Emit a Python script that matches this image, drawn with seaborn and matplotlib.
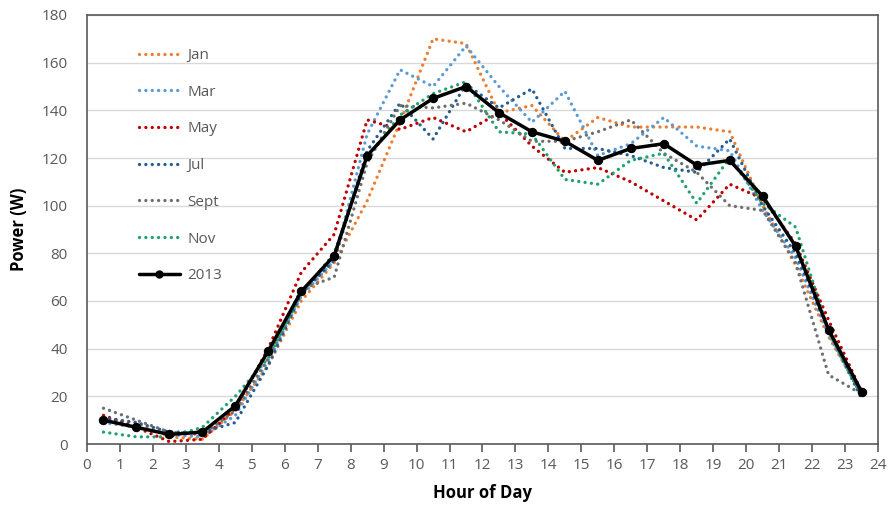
import matplotlib
matplotlib.use("Agg")
import matplotlib.pyplot as plt
import seaborn as sns
import pandas as pd
from matplotlib.lines import Line2D

hours = [0.5, 1.5, 2.5, 3.5, 4.5, 5.5, 6.5, 7.5, 8.5, 9.5, 10.5, 11.5,
         12.5, 13.5, 14.5, 15.5, 16.5, 17.5, 18.5, 19.5, 20.5, 21.5, 22.5, 23.5]

jan = [10, 9, 3, 2, 14, 33, 60, 76, 102, 135, 170, 168, 139, 142, 127, 137, 133, 133, 133, 131, 100, 75, 45, 21]
mar = [9, 7, 4, 3, 12, 35, 62, 77, 130, 157, 150, 167, 150, 135, 148, 121, 126, 137, 125, 123, 98, 78, 46, 20]
may = [12, 7, 1, 2, 15, 40, 72, 88, 136, 132, 137, 131, 139, 125, 114, 116, 110, 102, 94, 109, 103, 84, 52, 22]
jul = [11, 9, 5, 5, 9, 33, 63, 77, 123, 143, 128, 151, 141, 149, 124, 124, 121, 116, 114, 128, 100, 80, 48, 19]
sept = [15, 10, 5, 4, 14, 36, 65, 70, 118, 142, 141, 143, 136, 127, 127, 131, 136, 122, 114, 100, 98, 76, 29, 21]
nov = [5, 3, 3, 7, 20, 36, 63, 80, 120, 138, 147, 152, 131, 130, 111, 109, 119, 122, 101, 120, 101, 91, 47, 20]
y2013 = [10, 7, 4, 5, 16, 39, 64, 79, 121, 136, 145, 150, 139, 131, 127, 119, 124, 126, 117, 119, 104, 83, 48, 22]

months = ["Jan", "Mar", "May", "Jul", "Sept", "Nov"]
series = [jan, mar, may, jul, sept, nov]
colors = ["#ED7D31", "#5B9BD5", "#C00000", "#255E91", "#6F6F6F", "#1FA36B"]

sns.set_theme(style="white")
plt.rcParams['font.family'] = ['Open Sans', 'DejaVu Sans']

fig = plt.figure(figsize=(8.89, 5.08), dpi=100)
ax = fig.add_axes([87/889, 1 - 444/508, (878-87)/889, (444-15)/508])

dot = (0, (0.01, 1.9))
handles = []
for name, vals, c in zip(months, series, colors):
    df = pd.DataFrame({"hour": hours, "power": vals})
    sns.lineplot(data=df, x="hour", y="power", ax=ax, color=c, linewidth=2.4,
                 linestyle=dot, dash_capstyle="round", zorder=2)
    handles.append(Line2D([0], [0], color=c, linewidth=2.4, linestyle=dot,
                          dash_capstyle="round", label=name))

df13 = pd.DataFrame({"hour": hours, "power": y2013})
sns.lineplot(data=df13, x="hour", y="power", ax=ax, color="black", linewidth=2.5,
             marker="o", markersize=6, markeredgecolor="black", zorder=3)
handles.append(Line2D([0], [0], color="black", linewidth=2.5, marker="o", markersize=5,
                      label="2013"))

ax.set_xlim(0, 24)
ax.set_ylim(0, 180)
ax.set_xticks(range(0, 25))
ax.set_yticks(range(0, 181, 20))
ax.grid(axis="y", color="#D9D9D9", linewidth=1)
ax.set_axisbelow(True)
for s in ax.spines.values():
    s.set_color("#595959")
    s.set_linewidth(1.2)
ax.tick_params(axis="x", bottom=True, length=6, width=1.2, color="#595959",
               labelsize=11, labelcolor="#595959", pad=4)
ax.tick_params(axis="y", left=False, labelsize=11, labelcolor="#595959", pad=8)
ax.set_xlabel("Hour of Day", fontsize=12, fontweight="bold", color="black", labelpad=8)
ax.set_ylabel("Power (W)", fontsize=12, fontweight="bold", color="black", labelpad=10)

leg = ax.legend(handles=handles, loc="upper left", bbox_to_anchor=(0.048, 0.955),
                frameon=False, fontsize=11, labelspacing=1.42, handlelength=2.7,
                handletextpad=0.5)
for t in leg.get_texts():
    t.set_color("#595959")

fig.savefig("out.png", dpi=100)
